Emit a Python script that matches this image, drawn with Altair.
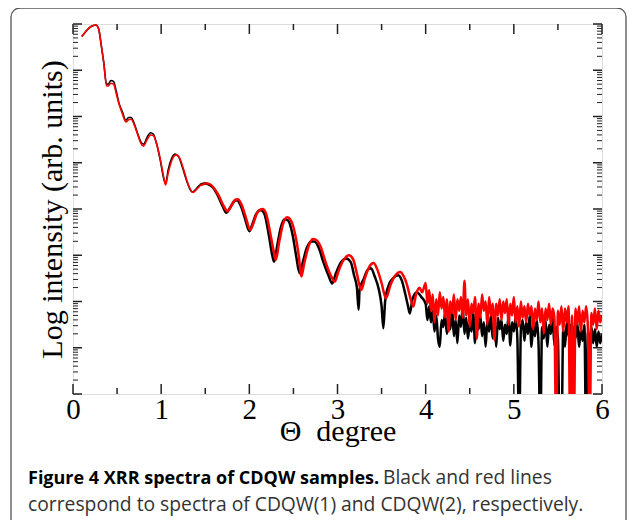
import math
import altair as alt
import pandas as pd

# ---------------- data ----------------
series_names = ["CDQW(1)", "CDQW(2)"]
series_colors = ["#000000", "#ff0000"]

theta_1 = [0.10, 0.15, 0.20, 0.26, 0.29, 0.32, 0.35, 0.38, 0.40, 0.43, 0.46, 0.49, 0.52, 0.56,
           0.60, 0.63, 0.66, 0.69, 0.73, 0.77, 0.80, 0.84, 0.88, 0.91, 0.95, 0.99, 1.03, 1.05,
           1.08, 1.12, 1.16, 1.20, 1.25, 1.30, 1.35, 1.38, 1.44, 1.50, 1.58, 1.64, 1.70, 1.74,
           1.78, 1.83, 1.86, 1.90, 1.95, 2.00, 2.03, 2.08, 2.13, 2.17, 2.22, 2.26, 2.28, 2.32,
           2.36, 2.40, 2.44, 2.49, 2.53, 2.57, 2.60, 2.65, 2.70, 2.74, 2.79, 2.84, 2.90, 2.94,
           2.98, 3.04, 3.10, 3.15, 3.19, 3.22, 3.24, 3.25, 3.30, 3.34, 3.38, 3.42, 3.47, 3.50,
           3.52, 3.54, 3.58, 3.64, 3.69, 3.73, 3.77, 3.80, 3.82, 3.85, 3.90, 3.95,
           4.00, 4.02, 4.04, 4.06, 4.08, 4.10, 4.12, 4.14, 4.16, 4.18, 4.20, 4.22, 4.24, 4.26,
           4.28, 4.30, 4.32, 4.34, 4.36, 4.38, 4.40, 4.42, 4.44, 4.46, 4.48, 4.50, 4.52, 4.54,
           4.56, 4.58, 4.60, 4.62, 4.64, 4.66, 4.68, 4.70, 4.72, 4.74, 4.76, 4.78, 4.80, 4.82,
           4.84, 4.86, 4.88, 4.90, 4.92, 4.94, 4.96, 4.98, 5.00, 5.02, 5.04, 5.06, 5.08, 5.10,
           5.12, 5.14, 5.16, 5.18, 5.20, 5.22, 5.24, 5.26, 5.28, 5.30, 5.32, 5.34, 5.36, 5.38,
           5.40, 5.42, 5.44, 5.46, 5.48, 5.50, 5.52, 5.54, 5.56, 5.58, 5.60, 5.62, 5.64, 5.66,
           5.68, 5.70, 5.72, 5.74, 5.76, 5.78, 5.80, 5.82, 5.84, 5.86, 5.88, 5.90, 5.92, 5.94,
           5.96, 5.98, 6.00]
log_1 = [7.73, 7.85, 7.94, 7.98, 7.90, 7.55, 7.15, 6.70, 6.70, 6.78, 6.76, 6.55, 6.30, 6.10,
         5.92, 5.98, 5.98, 5.87, 5.65, 5.45, 5.40, 5.55, 5.65, 5.62, 5.40, 5.05, 4.65, 4.55,
         4.85, 5.10, 5.19, 5.12, 4.85, 4.55, 4.37, 4.40, 4.52, 4.55, 4.48, 4.30, 4.05, 3.92,
         4.02, 4.17, 4.19, 4.08, 3.80, 3.52, 3.65, 3.90, 3.98, 3.90, 3.45, 3.00, 2.86, 3.25,
         3.62, 3.78, 3.75, 3.45, 3.00, 2.61, 2.80, 3.15, 3.30, 3.30, 3.15, 2.85, 2.55, 2.39,
         2.60, 2.85, 2.93, 2.85, 2.55, 2.30, 1.82, 2.25, 2.50, 2.68, 2.72, 2.55, 2.25, 1.90,
         1.42, 2.00, 2.35, 2.52, 2.57, 2.45, 2.15, 1.90, 1.74, 2.05, 2.20, 2.10,
         1.95, 1.60, 1.90, 1.55, 1.80, 1.35, 1.70, 1.20, 1.02, 1.60, 1.45, 1.75, 1.30, 1.65,
         1.40, 1.85, 1.25, 1.60, 1.10, 1.70, 1.45, 1.90, 1.30, 1.65, 1.20, 1.55, 1.35, 1.75,
         1.10, 1.60, 1.40, 1.70, 1.25, 1.55, 1.02, 1.60, 1.35, 1.70, 1.20, 1.55, 1.02, 1.65,
         1.40, 1.60, 1.15, 1.50, 1.30, 1.70, 1.05, 1.55, 1.35, 1.65, 1.20, -1.0, 1.40, 1.60,
         1.15, 1.55, 1.30, 1.70, 1.02, 1.50, 1.25, 1.60, 1.10, -1.0, 1.45, 1.20, 1.60, 1.02,
         1.50, 1.30, 1.65, 1.05, 1.45, 1.20, -1.0, -1.0, 1.40, 1.02, 1.55, 1.25, 1.50, 1.02,
         1.45, 1.20, 1.55, 1.02, 1.40, 1.15, 1.50, -1.0, 1.35, 1.02, 1.45, 1.10, 1.40, 1.02,
         1.35, 1.10, 1.30]

theta_2 = [0.10, 0.15, 0.20, 0.26, 0.29, 0.32, 0.35, 0.38, 0.40, 0.43, 0.46, 0.49, 0.52, 0.56,
           0.60, 0.63, 0.66, 0.69, 0.73, 0.77, 0.80, 0.84, 0.88, 0.91, 0.95, 0.99, 1.03, 1.05,
           1.08, 1.12, 1.17, 1.21, 1.26, 1.31, 1.36, 1.40, 1.46, 1.52, 1.59, 1.65, 1.71, 1.75,
           1.79, 1.84, 1.87, 1.91, 1.96, 2.01, 2.04, 2.09, 2.15, 2.19, 2.24, 2.28, 2.30, 2.34,
           2.38, 2.43, 2.47, 2.52, 2.56, 2.59, 2.62, 2.67, 2.72, 2.76, 2.81, 2.86, 2.92, 2.97,
           3.01, 3.07, 3.13, 3.18, 3.22, 3.27, 3.31, 3.36, 3.41, 3.45, 3.50, 3.55, 3.60, 3.65,
           3.71, 3.75, 3.79, 3.83, 3.86, 3.89, 3.93, 3.96,
           4.00, 4.02, 4.04, 4.06, 4.08, 4.10, 4.12, 4.14, 4.16, 4.18, 4.20, 4.22, 4.24, 4.26,
           4.28, 4.30, 4.32, 4.34, 4.36, 4.38, 4.40, 4.42, 4.44, 4.46, 4.48, 4.50, 4.52, 4.54,
           4.56, 4.58, 4.60, 4.62, 4.64, 4.66, 4.68, 4.70, 4.72, 4.74, 4.76, 4.78, 4.80, 4.82,
           4.84, 4.86, 4.88, 4.90, 4.92, 4.94, 4.96, 4.98, 5.00, 5.02, 5.04, 5.06, 5.08, 5.10,
           5.12, 5.14, 5.16, 5.18, 5.20, 5.22, 5.24, 5.26, 5.28, 5.30, 5.32, 5.34, 5.36, 5.38,
           5.40, 5.42, 5.44, 5.46, 5.48, 5.50, 5.52, 5.54, 5.56, 5.58, 5.60, 5.62, 5.64, 5.66,
           5.68, 5.70, 5.72, 5.74, 5.76, 5.78, 5.80, 5.82, 5.84, 5.86, 5.88, 5.90, 5.92, 5.94,
           5.96, 5.98, 6.00]
log_2 = [7.73, 7.85, 7.94, 7.98, 7.90, 7.55, 7.15, 6.66, 6.66, 6.72, 6.70, 6.50, 6.28, 6.06,
         5.88, 5.93, 5.94, 5.84, 5.63, 5.42, 5.36, 5.50, 5.60, 5.59, 5.40, 5.08, 4.68, 4.52,
         4.78, 5.05, 5.17, 5.10, 4.82, 4.52, 4.36, 4.42, 4.53, 4.55, 4.47, 4.30, 4.06, 3.95,
         4.05, 4.20, 4.21, 4.10, 3.82, 3.55, 3.66, 3.92, 4.00, 3.90, 3.45, 3.05, 2.90, 3.30,
         3.66, 3.82, 3.76, 3.45, 3.00, 2.54, 2.80, 3.18, 3.35, 3.33, 3.18, 2.88, 2.58, 2.43,
         2.65, 2.90, 3.00, 2.90, 2.60, 2.25, 2.50, 2.75, 2.83, 2.70, 2.40, 2.07, 2.35, 2.55,
         2.64, 2.55, 2.35, 2.05, 1.89, 2.15, 2.30, 2.20,
         2.40, 1.95, 2.25, 1.80, 2.15, 1.55, 2.05, 1.70, 2.20, 1.85, 2.10, 1.65, 2.05, 1.35,
         2.00, 1.75, 2.15, 1.60, 2.05, 1.80, 2.10, 1.65, 2.45, 1.70, 2.05, 1.45, 1.95, 1.75,
         2.10, 1.20, 1.95, 1.65, 2.15, 1.80, 2.00, 1.50, 2.10, 1.70, 1.95, 1.17, 1.95, 1.70,
         2.05, 1.60, 2.00, 1.75, 2.05, 1.50, 1.95, 1.70, 2.10, 1.55, 1.90, 1.45, 2.00, 1.65,
         1.90, 1.55, 1.95, 1.70, 1.90, 1.40, 1.85, 1.60, 2.00, 1.55, 1.85, 1.30, 1.85, 1.60,
         1.95, 1.50, 1.85, 1.65, -1.0, 1.80, 1.50, 1.90, 1.35, 1.85, 1.55, 1.90, -1.0, 1.70,
         -1.0, 1.85, 1.50, 1.90, 1.35, 1.80, 1.55, 1.90, 1.45, -1.0, 1.75, 1.50, 1.85, 1.40,
         1.80, 1.55, 1.70]

x_major_ticks = [0, 1, 2, 3, 4, 5, 6]
x_minor_ticks = [0.5, 1.5, 2.5, 3.5, 4.5, 5.5]
y_decades = [0, 1, 2, 3, 4, 5, 6, 7, 8]

x_title = "\u0398\u00a0\u00a0degree"
y_title = "Log intensity (arb. units)"
caption_bold = "Figure 4 XRR spectra of CDQW samples."
caption_rest_1 = "Black and red lines"
caption_line_2 = "correspond to spectra of CDQW(1) and CDQW(2), respectively."

# ---------------- tables ----------------
rows = []
for name, th, lg in ((series_names[0], theta_1, log_1), (series_names[1], theta_2, log_2)):
    for i, (t, v) in enumerate(zip(th, lg)):
        rows.append({"theta": t, "logI": v, "series": name, "order": i})
df = pd.DataFrame(rows)
df_smooth = df[df["theta"] <= 1.60]
df_rough = df[df["theta"] >= 1.44]

y_minor_ticks = [d + math.log10(k) for d in y_decades[:-1] for k in range(2, 10)]
df_xmaj = pd.DataFrame({"theta": x_major_ticks})
df_xmin = pd.DataFrame({"theta": x_minor_ticks})
df_ymaj = pd.DataFrame({"logI": y_decades})
df_ymin = pd.DataFrame({"logI": y_minor_ticks})

W, H = 529, 370
SERIF = "Liberation Serif"
SANS = "Open Sans"

xscale = alt.Scale(domain=[0, 6], nice=False, zero=False)
yscale = alt.Scale(domain=[0, 8], nice=False, zero=False)

x_axis = alt.Axis(values=x_major_ticks, ticks=False, domain=False, grid=False,
                  labelFont=SERIF, labelFontSize=29, labelColor="#000", labelFlush=False,
                  labelBaseline="alphabetic", labelPadding=24,
                  title=x_title, titleFont=SERIF, titleFontSize=30, titleFontWeight="normal",
                  titleColor="#000", titleBaseline="alphabetic", titleY=46)
y_axis = alt.Axis(labels=False, ticks=False, domain=False, grid=False,
                  title=y_title, titleFont=SERIF, titleFontSize=30, titleFontWeight="normal",
                  titleColor="#000", titleBaseline="alphabetic", titleX=-12, titleY=H / 2,
                  titleAngle=270)


def xenc(field="theta"):
    return alt.X(f"{field}:Q", scale=xscale, axis=x_axis, title=x_title)


def yenc(field="logI"):
    return alt.Y(f"{field}:Q", scale=yscale, axis=y_axis, title=y_title)


color_scale = alt.Scale(domain=series_names, range=series_colors)

lines_smooth = alt.Chart(df_smooth).mark_line(
    strokeWidth=1.6, clip=True, interpolate="monotone").encode(
    x=xenc(), y=yenc(),
    order="order:Q",
    color=alt.Color("series:N", scale=color_scale,
                    legend=alt.Legend(title=None, orient="none", legendX=342, legendY=29,
                                      symbolType="stroke", symbolSize=400, symbolStrokeWidth=1.2,
                                      labelFont=SERIF, labelFontSize=30, labelColor="#000",
                                      labelOffset=12, rowPadding=0, padding=0,
                                      labelLimit=300)),
)
lines_rough = alt.Chart(df_rough).mark_line(
    strokeWidth=2.5, clip=True, interpolate="monotone").encode(
    x=xenc(), y=yenc(),
    order="order:Q",
    color=alt.Color("series:N", scale=color_scale, legend=None),
)

tick_color = "#222"
xmaj_bot = alt.Chart(df_xmaj).mark_rule(color=tick_color, strokeWidth=1.5).encode(
    x=xenc(), y=alt.value(H), y2=alt.value(H - 10))
xmaj_top = alt.Chart(df_xmaj).mark_rule(color=tick_color, strokeWidth=1.5).encode(
    x=xenc(), y=alt.value(0), y2=alt.value(10))
xmin_bot = alt.Chart(df_xmin).mark_rule(color=tick_color, strokeWidth=1.5).encode(
    x=xenc(), y=alt.value(H), y2=alt.value(H - 6))
xmin_top = alt.Chart(df_xmin).mark_rule(color=tick_color, strokeWidth=1.5).encode(
    x=xenc(), y=alt.value(0), y2=alt.value(6))
ymaj_l = alt.Chart(df_ymaj).mark_rule(color=tick_color, strokeWidth=1.5).encode(
    y=yenc(), x=alt.value(0), x2=alt.value(9))
ymaj_r = alt.Chart(df_ymaj).mark_rule(color=tick_color, strokeWidth=1.5).encode(
    y=yenc(), x=alt.value(W), x2=alt.value(W - 9))
ymin_l = alt.Chart(df_ymin).mark_rule(color=tick_color, strokeWidth=1).encode(
    y=yenc(), x=alt.value(0), x2=alt.value(5))
ymin_r = alt.Chart(df_ymin).mark_rule(color=tick_color, strokeWidth=1).encode(
    y=yenc(), x=alt.value(W), x2=alt.value(W - 5))

# outer caption frame
frame = alt.Chart(pd.DataFrame({"f": [0]})).mark_rect(
    fill=None, stroke="#555", strokeWidth=1.3, cornerRadius=9, clip=False).encode(
    x=alt.value(-62), x2=alt.value(553), y=alt.value(-16), y2=alt.value(540))

cap1 = alt.Chart(pd.DataFrame({"t": [caption_bold]})).mark_text(
    font=SANS, fontSize=18, fontWeight="bold", align="left", baseline="alphabetic",
    color="#000").encode(text="t:N", x=alt.value(-45), y=alt.value(460))
cap2 = alt.Chart(pd.DataFrame({"t": [caption_rest_1]})).mark_text(
    font=SANS, fontSize=19.3, align="left", baseline="alphabetic",
    color="#333").encode(text="t:N", x=alt.value(310), y=alt.value(460))
cap3 = alt.Chart(pd.DataFrame({"t": [caption_line_2]})).mark_text(
    font=SANS, fontSize=19.3, align="left", baseline="alphabetic",
    color="#333").encode(text="t:N", x=alt.value(-45), y=alt.value(487))

chart = alt.layer(
    frame, ymin_l, ymin_r, ymaj_l, ymaj_r, xmin_bot, xmin_top, xmaj_bot, xmaj_top,
    lines_rough, lines_smooth, cap1, cap2, cap3,
).properties(
    width=W, height=H,
    autosize=alt.AutoSizeParams(type="none"),
    padding={"left": 65, "top": 16, "right": 25, "bottom": 126},
).configure_view(
    stroke="#222", strokeWidth=2,
).configure(background="white")

chart.save("out.html", embed_options={"renderer": "svg", "actions": False})
